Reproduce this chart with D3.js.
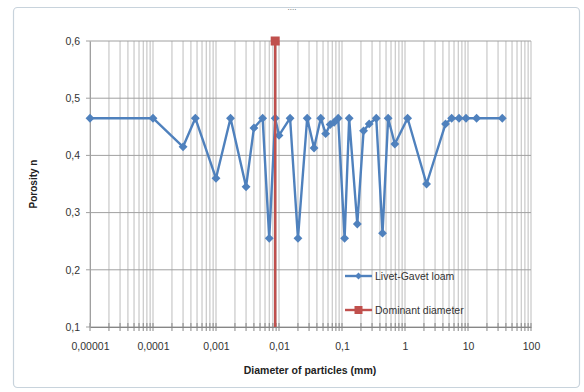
<!DOCTYPE html>
<html><head><meta charset="utf-8">
<script src="https://cdn.jsdelivr.net/npm/d3@7"></script>
<style>body{margin:0;background:#fff}svg{display:block}text{font-family:"Liberation Sans",Arial,sans-serif}</style>
</head><body>
<svg id="c" width="584" height="392"></svg>
<script>
const diameters = [0.00001,0.0001,0.0003,0.00047,0.001,0.0017,0.003,0.004,0.0055,0.007,0.0087,0.01,0.015,0.02,0.028,0.036,0.046,0.055,0.065,0.075,0.087,0.11,0.13,0.175,0.22,0.27,0.35,0.44,0.54,0.69,1.1,2.2,4.4,5.5,7.2,9.3,13.7,35];
const porosity = [0.465,0.465,0.415,0.465,0.36,0.465,0.345,0.448,0.465,0.255,0.465,0.435,0.465,0.255,0.465,0.413,0.465,0.438,0.454,0.458,0.465,0.255,0.465,0.28,0.443,0.455,0.465,0.264,0.465,0.42,0.465,0.35,0.455,0.465,0.465,0.465,0.465,0.465];
const dominantDiameter = [0.0087,0.0087];
const dominantPorosity = [0.1,0.6];
const xTicks = [0.00001,0.0001,0.001,0.01,0.1,1,10,100];
const xTickLabels = ["0,00001","0,0001","0,001","0,01","0,1","1","10","100"];
const yTicks = [0.1,0.2,0.3,0.4,0.5,0.6];
const yTickLabels = ["0,1","0,2","0,3","0,4","0,5","0,6"];
const seriesNames = ["Livet-Gavet loam","Dominant diameter"];

const svg = d3.select("#c");
const blue = "#4f81bd", red = "#c0504d";
const x = d3.scaleLog().domain([1e-5,100]).range([90,531]);
const y = d3.scaleLinear().domain([0.1,0.6]).range([327,41]);

// outer frame
svg.append("rect").attr("x",13.5).attr("y",7.5).attr("width",566).attr("height",380)
  .attr("rx",4).attr("fill","#fff").attr("stroke","#c8d3dc").attr("stroke-width",1.2);
svg.append("text").attr("x",292).attr("y",10).attr("text-anchor","middle")
  .attr("font-size",8).attr("fill","#555").text("....");

// minor grid values
const minor = [];
for (let k=-5;k<=1;k++) for (let m=1;m<=9;m++) minor.push(m*Math.pow(10,k));
minor.push(100);

const g = svg.append("g");
g.selectAll("line.vg").data(minor).join("line").attr("class","vg")
  .attr("x1",d=>x(d)).attr("x2",d=>x(d)).attr("y1",y(0.6)).attr("y2",y(0.1))
  .attr("stroke","#bdbdbd").attr("stroke-width",1);
g.selectAll("line.hg").data(yTicks).join("line").attr("class","hg")
  .attr("x1",x(1e-5)-4).attr("x2",x(100)).attr("y1",d=>y(d)).attr("y2",d=>y(d))
  .attr("stroke","#a0a0a0").attr("stroke-width",1);

// x axis
const xa = svg.append("g").attr("transform",`translate(0,${y(0.1)})`)
  .call(d3.axisBottom(x).tickValues(xTicks).tickSize(0).tickPadding(16)
    .tickFormat((d,i)=>xTickLabels[i]));
xa.select(".domain").attr("stroke","#868686");
xa.selectAll("text").attr("font-size",10.5).attr("fill","#333");
svg.append("g").selectAll("line").data(minor).join("line")
  .attr("x1",d=>x(d)).attr("x2",d=>x(d)).attr("y1",y(0.1)-4).attr("y2",y(0.1)+4)
  .attr("stroke","#868686");

// y axis labels
const ya = svg.append("g").attr("transform",`translate(${x(1e-5)},0)`)
  .call(d3.axisLeft(y).tickValues(yTicks).tickSize(0).tickPadding(10)
    .tickFormat((d,i)=>yTickLabels[i]));
ya.select(".domain").attr("stroke","#a0a0a0");
ya.selectAll("text").attr("font-size",10.5).attr("fill","#333");

// axis titles
svg.append("text").attr("x",310).attr("y",374).attr("text-anchor","middle")
  .attr("font-size",10.5).attr("font-weight","bold").attr("fill","#222")
  .text("Diameter  of particles (mm)");
svg.append("text").attr("transform","translate(37,184) rotate(-90)")
  .attr("text-anchor","middle").attr("font-size",10).attr("font-weight","bold")
  .attr("fill","#222").text("Porosity n");

// series 1
const pts = diameters.map((d,i)=>[d,porosity[i]]);
svg.append("path").datum(pts).attr("fill","none").attr("stroke",blue)
  .attr("stroke-width",2.4).attr("stroke-linejoin","round")
  .attr("d",d3.line().x(d=>x(d[0])).y(d=>y(d[1])));
const diamond = d3.symbol().type(d3.symbolDiamond2).size(50);
svg.append("g").selectAll("path").data(pts).join("path")
  .attr("transform",d=>`translate(${x(d[0])},${y(d[1])})`)
  .attr("d",diamond).attr("fill",blue);

// series 2
const dom = dominantDiameter.map((d,i)=>[d,dominantPorosity[i]]);
svg.append("path").datum(dom).attr("fill","none").attr("stroke",red)
  .attr("stroke-width",2.4).attr("d",d3.line().x(d=>x(d[0])).y(d=>y(d[1])));
svg.append("rect").datum(dom[1]).attr("x",d=>x(d[0])-4.5).attr("y",d=>y(d[1])-4.5)
  .attr("width",9).attr("height",9).attr("fill",red);

// legend
const lg = svg.append("g");
const ly = [276,310];
[blue,red].forEach((c,i)=>{
  lg.append("line").attr("x1",345).attr("x2",372).attr("y1",ly[i]).attr("y2",ly[i])
    .attr("stroke",c).attr("stroke-width",2.4);
  if(i===0) lg.append("path").attr("transform",`translate(358.5,${ly[i]})`)
    .attr("d",d3.symbol().type(d3.symbolDiamond2).size(30)).attr("fill",c);
  else lg.append("rect").attr("x",354.5).attr("y",ly[i]-4).attr("width",8).attr("height",8).attr("fill",c);
  lg.append("text").attr("x",375).attr("y",ly[i]+4).attr("font-size",10.5)
    .attr("fill","#333").text(seriesNames[i]);
});
</script>
</body></html>
